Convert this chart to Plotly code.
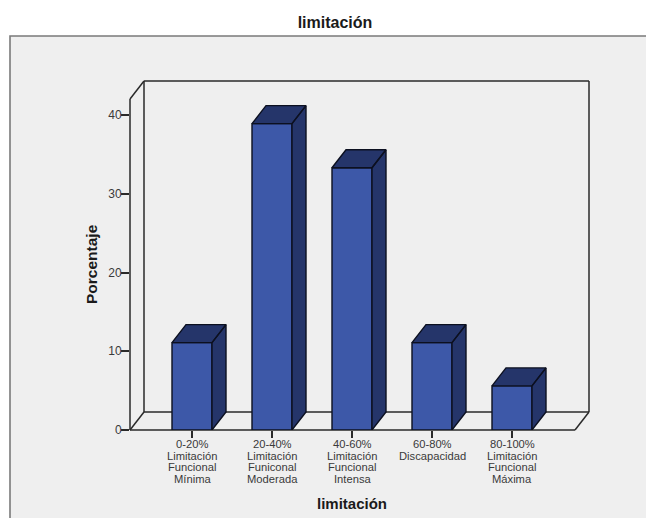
import plotly.graph_objects as go

categories = [
    ["0-20%", "Limitación", "Funcional", "Mínima"],
    ["20-40%", "Limitación", "Funiconal", "Moderada"],
    ["40-60%", "Limitación", "Funcional", "Intensa"],
    ["60-80%", "Discapacidad"],
    ["80-100%", "Limitación", "Funcional", "Máxima"],
]
percentages = [11.1, 38.9, 33.3, 11.1, 5.6]
y_ticks = [0, 10, 20, 30, 40]

W, H = 646, 518
# Plot box in pixels, including the receding depth of the 3-D walls
L, R, T, B = 130, 589, 81, 430
DEPTH_PX_X, DEPTH_PX_Y = 14, 18
PX_PER_CAT = 80.0
PX_PER_UNIT = 7.875
FIRST_TICK_PX = 192

DX = DEPTH_PX_X / PX_PER_CAT
DY = DEPTH_PX_Y / PX_PER_UNIT
BAR_W = 0.5
X0 = (L - FIRST_TICK_PX) / PX_PER_CAT
X_FRONT = (R - DEPTH_PX_X - FIRST_TICK_PX) / PX_PER_CAT
X_BACK = X_FRONT + DX
Y_TOP_FRONT = (B - T - DEPTH_PX_Y) / PX_PER_UNIT
Y_TOP_BACK = Y_TOP_FRONT + DY

FRONT = "#3d58a8"
SIDE = "#25356a"
INK = "#2a2a2a"
BAR_EDGE = "#0c1020"
PANEL = "#efefef"
TEXT = "#3a3a3a"


# Paper coordinates are relative to the plot box, so convert from page pixels
def px(x):
    return (x - L) / (R - L)


def py(y):
    return (B - y) / (B - T)


def paper_x(v):
    return (v - X0) / (X_BACK - X0)


def paper_y(v):
    return v / Y_TOP_BACK


fig = go.Figure()

# Background panel, then wall and floor edges of the 3-D box beneath the bars
shapes = [dict(type="rect", xref="paper", yref="paper", layer="below",
               x0=px(10), x1=px(W + 5), y0=py(H + 5), y1=py(36),
               fillcolor=PANEL, line=dict(color="#7a7a7a", width=1.6))]
for (xa, ya), (xb, yb) in [
    ((X0, 0), (X_FRONT, 0)),
    ((X0, 0), (X0, Y_TOP_FRONT)),
    ((X0, Y_TOP_FRONT), (X0 + DX, Y_TOP_BACK)),
    ((X0, 0), (X0 + DX, DY)),
    ((X_FRONT, 0), (X_BACK, DY)),
    ((X0 + DX, DY), (X_BACK, DY)),
    ((X0 + DX, DY), (X0 + DX, Y_TOP_BACK)),
    ((X0 + DX, Y_TOP_BACK), (X_BACK, Y_TOP_BACK)),
    ((X_BACK, DY), (X_BACK, Y_TOP_BACK)),
]:
    shapes.append(dict(type="line", xref="paper", yref="paper", layer="below",
                       x0=paper_x(xa), x1=paper_x(xb), y0=paper_y(ya), y1=paper_y(yb),
                       line=dict(color=INK, width=1.5)))

# Top and side faces of each bar, extruded from its value
for i, v in enumerate(percentages):
    xl, xr = i - BAR_W / 2, i + BAR_W / 2
    fig.add_trace(go.Scatter(
        x=[xl, xr, xr + DX, xl + DX, xl, None, xr, xr + DX, xr + DX, xr, xr],
        y=[v, v, v + DY, v + DY, v, None, v, v + DY, DY, 0, v],
        mode="lines", fill="toself", fillcolor=SIDE,
        line=dict(color=BAR_EDGE, width=1.4), hoverinfo="skip"))

# Front faces
fig.add_trace(go.Bar(x=list(range(len(percentages))), y=percentages, width=BAR_W,
                     marker=dict(color=FRONT, line=dict(color=BAR_EDGE, width=1.4))))

annotations = []
# Category labels are stacked line by line for tight leading
LINE_PX = 11.7
for i, lines in enumerate(categories):
    for j, line in enumerate(lines):
        annotations.append(dict(
            x=i, xref="x", y=py(444 + j * LINE_PX), yref="paper", text=line,
            showarrow=False, xanchor="center", yanchor="middle",
            font=dict(family="Liberation Sans", size=11.2, color=TEXT)))
annotations.append(dict(x=px(352), y=py(503), xref="paper", yref="paper", text="<b>limitación</b>",
                        xanchor="center", yanchor="middle", showarrow=False,
                        font=dict(family="Liberation Sans", size=15, color="#1a1a1a")))
annotations.append(dict(x=px(91), y=py(264), xref="paper", yref="paper", text="<b>Porcentaje</b>",
                        textangle=-90, xanchor="center", yanchor="middle", showarrow=False,
                        font=dict(family="Liberation Sans", size=15.5, color="#1a1a1a")))

fig.update_layout(
    width=W, height=H,
    margin=dict(l=L, r=W - R, t=T, b=H - B, pad=0),
    paper_bgcolor="white", plot_bgcolor="rgba(0,0,0,0)",
    showlegend=False,
    title=dict(text="<b>limitación</b>", x=335 / W, xanchor="center", y=1 - 22 / H, yanchor="middle",
               font=dict(family="Liberation Sans", size=16, color="#1a1a1a")),
    xaxis=dict(range=[X0, X_BACK], tickvals=list(range(len(categories))),
               ticktext=[""] * len(categories), ticks="outside", ticklen=7, tickwidth=1.5,
               tickcolor=INK, showgrid=False, zeroline=False, showline=False),
    yaxis=dict(range=[0, Y_TOP_BACK], tickvals=y_ticks, ticks="outside", ticklen=8, tickwidth=1.5,
               tickcolor=INK, showgrid=False, zeroline=False, showline=False, ticklabelstandoff=-3,
               tickfont=dict(family="Liberation Sans", size=12, color=TEXT)),
    shapes=shapes,
    annotations=annotations,
)

fig.write_html("out.html")
